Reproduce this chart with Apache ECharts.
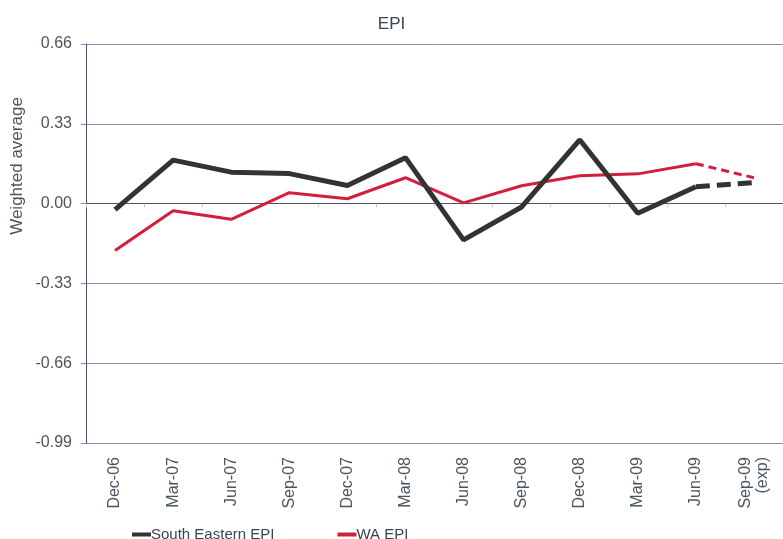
<!DOCTYPE html>
<html>
<head>
<meta charset="utf-8">
<script src="https://cdn.jsdelivr.net/npm/echarts@6/dist/echarts.min.js"></script>
<style>
  html, body { margin: 0; padding: 0; background: #fff; }
  #main { width: 783px; height: 539px; }
</style>
</head>
<body>
<div id="main"></div>
<script>
   // 数据
   var quarters = ['Dec-06','Mar-07','Jun-07','Sep-07','Dec-07','Mar-08','Jun-08','Sep-08','Dec-08','Mar-09','Jun-09','Sep-09\n(exp)'];
   var southEastern = [-0.025, 0.18, 0.13, 0.124, 0.075, 0.19, -0.15, -0.014, 0.264, -0.04, 0.07, 0.087];
   var waEpi = [-0.194, -0.03, -0.065, 0.045, 0.02, 0.107, 0.003, 0.074, 0.115, 0.123, 0.165, 0.107];
   var yTicks = [-0.99, -0.66, -0.33, 0, 0.33, 0.66];

   // 实线部分到 Jun-09，虚线部分 Jun-09 -> Sep-09 (exp)
   var lastIdx = quarters.length - 1;
   function solidPart(arr) {
       return arr.map(function (v, i) { return i < lastIdx ? v : null; });
   }
   function dashPart(arr) {
       return arr.map(function (v, i) { return i >= lastIdx - 1 ? v : null; });
   }

   var axisColor = '#4a5565';
   var gridColor = '#8c8cb8';
   var textColor = '#4a5560';

   var myChart = echarts.init(document.getElementById('main'));
   myChart.setOption({
       animation: false,
       title: {
           text: 'EPI',
           left: 'center',
           top: 11,
           textStyle: { fontSize: 17, fontWeight: 'normal', color: '#3a4450', fontFamily: 'Liberation Sans' }
       },
       graphic: [{
           type: 'text',
           x: 17, y: 166,
           rotation: Math.PI / 2,
           style: {
               text: 'Weighted average',
               fontSize: 17,
               fontFamily: 'Liberation Sans',
               fill: textColor,
               textAlign: 'center',
               textVerticalAlign: 'middle'
           }
       }],
       grid: { left: 86, top: 44, right: -5, bottom: 96 },
       legend: {
           data: ['South Eastern EPI', 'WA EPI'],
           left: 127,
           top: 522,
           itemGap: 63,
           itemWidth: 19,
           itemHeight: 4,
           icon: 'rect',
           textStyle: { fontSize: 15, color: '#3a4450', fontFamily: 'Liberation Sans', padding: [0, 0, 0, -5] }
       },
       xAxis: [{
           type: 'category',
           data: quarters,
           position: 'bottom',
           axisLine: { show: false, onZero: false },
           axisTick: { show: false },
           axisLabel: { rotate: 90, margin: 14, fontSize: 16, color: textColor, fontFamily: 'Liberation Sans', interval: 0, lineHeight: 17 }
       }, {
           type: 'category',
           data: quarters,
           position: 'bottom',
           axisLine: { show: true, onZero: true, lineStyle: { color: axisColor, width: 1 } },
           axisTick: { show: true, length: 4, lineStyle: { color: '#c8ccd4' } },
           axisLabel: { show: false }
       }],
       yAxis: {
           type: 'value',
           min: yTicks[0],
           max: yTicks[yTicks.length - 1],
           interval: 0.33,
           axisLine: { show: true, lineStyle: { color: axisColor } },
           axisTick: { show: true, length: 5, lineStyle: { color: gridColor } },
           axisLabel: {
               fontSize: 16, color: textColor, margin: 14, fontFamily: 'Liberation Sans',
               formatter: function (v) { return v.toFixed(2); }
           },
           splitLine: { lineStyle: { color: gridColor, width: 1 } }
       },
       series: [{
           name: 'South Eastern EPI',
           type: 'line',
           data: solidPart(southEastern),
           symbol: 'none',
           color: '#333333',
           lineStyle: { width: 5, color: '#333333' },
           z: 3
       }, {
           name: 'WA EPI',
           type: 'line',
           data: solidPart(waEpi),
           symbol: 'none',
           color: '#d21f3c',
           lineStyle: { width: 3, color: '#d21f3c' },
           z: 2
       }, {
           name: 'South Eastern EPI (exp)',
           type: 'line',
           data: dashPart(southEastern),
           symbol: 'none',
           lineStyle: { width: 5, color: '#333333', type: [14, 7] },
           z: 3
       }, {
           name: 'WA EPI (exp)',
           type: 'line',
           data: dashPart(waEpi),
           symbol: 'none',
           lineStyle: { width: 3, color: '#d21f3c', type: [8, 5] },
           z: 2
       }]
   });
</script>
</body>
</html>
